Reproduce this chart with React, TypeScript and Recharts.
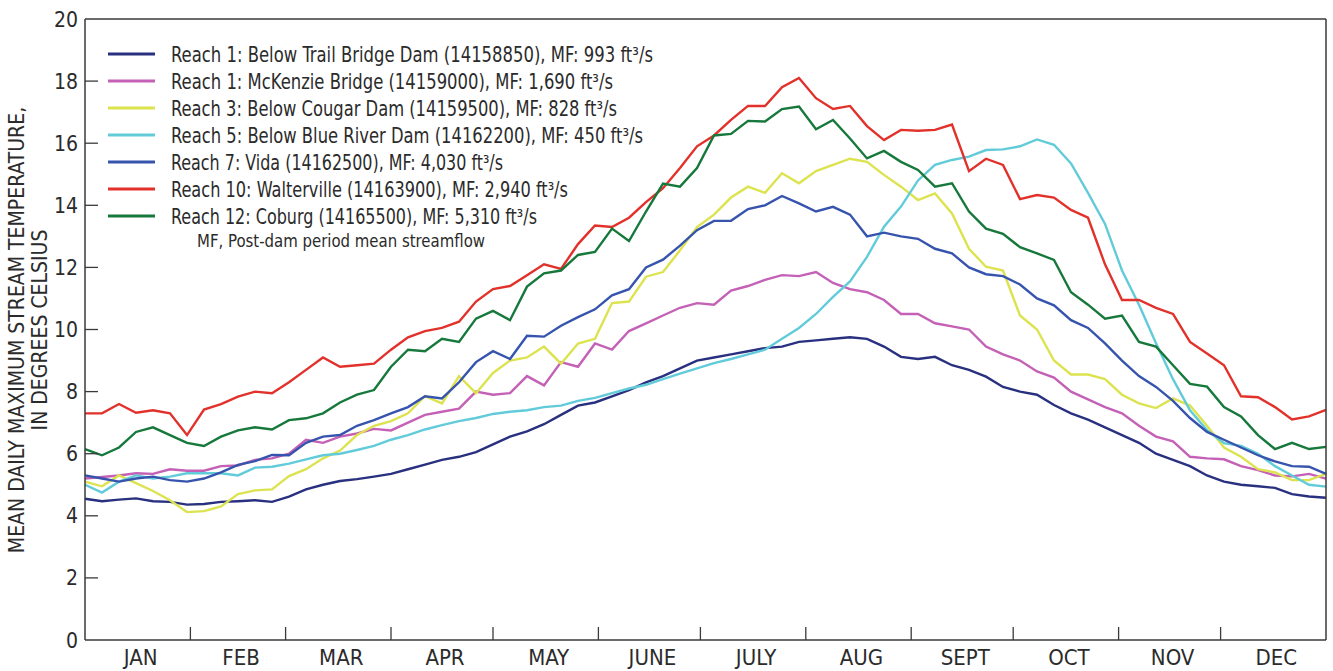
import React from "react";
import { LineChart, Line, XAxis, YAxis } from "recharts";

// day of year for each sample
const days = [
  0, 5, 10, 15, 20, 25, 30, 35, 40, 45, 50, 55, 60, 65, 70, 75, 80, 85, 90, 95,
  100, 105, 110, 115, 120, 125, 130, 135, 140, 145, 150, 155, 160, 165, 170, 175,
  180, 185, 190, 195, 200, 205, 210, 215, 220, 225, 230, 235, 240, 245, 250, 255,
  260, 265, 270, 275, 280, 285, 290, 295, 300, 305, 310, 315, 320, 325, 330, 335,
  340, 345, 350, 355, 360, 365,
];

const trailBridge = [
  4.55, 4.47, 4.52, 4.56, 4.47, 4.45, 4.36, 4.38, 4.45, 4.47, 4.5, 4.45, 4.62, 4.85,
  5.0, 5.12, 5.18, 5.26, 5.35, 5.5, 5.65, 5.8, 5.9, 6.05, 6.3, 6.55, 6.72, 6.95, 7.25,
  7.55, 7.65, 7.85, 8.05, 8.3, 8.5, 8.75, 9.0, 9.1, 9.2, 9.3, 9.4, 9.45, 9.6, 9.65,
  9.7, 9.75, 9.7, 9.45, 9.12, 9.05, 9.12, 8.85, 8.7, 8.48, 8.15, 8.0, 7.9, 7.57, 7.3,
  7.1, 6.85, 6.6, 6.35, 6.0, 5.8, 5.6, 5.3, 5.1, 5.0, 4.95, 4.9, 4.7, 4.62, 4.58,
];

const mckenzie = [
  5.2, 5.25, 5.3, 5.37, 5.35, 5.5, 5.45, 5.45, 5.6, 5.62, 5.8, 5.85, 6.0, 6.45, 6.35,
  6.55, 6.65, 6.8, 6.75, 7.0, 7.25, 7.35, 7.45, 8.0, 7.9, 7.95, 8.5, 8.2, 8.95, 8.8,
  9.55, 9.35, 9.95, 10.2, 10.45, 10.7, 10.85, 10.8, 11.25, 11.4, 11.6, 11.75, 11.72,
  11.85, 11.5, 11.3, 11.2, 10.95, 10.5, 10.5, 10.2, 10.1, 10.0, 9.45, 9.2, 9.0, 8.65,
  8.45, 8.0, 7.75, 7.5, 7.3, 6.9, 6.55, 6.4, 5.9, 5.85, 5.82, 5.6, 5.47, 5.3, 5.27,
  5.35, 5.2,
];

const cougar = [
  5.1, 4.95, 5.3, 5.05, 4.8, 4.5, 4.12, 4.15, 4.3, 4.7, 4.82, 4.85, 5.28, 5.5, 5.85,
  6.1, 6.6, 6.9, 7.05, 7.3, 7.85, 7.62, 8.5, 7.95, 8.6, 9.0, 9.1, 9.45, 8.9, 9.55, 9.7,
  10.85, 10.9, 11.7, 11.85, 12.55, 13.3, 13.7, 14.25, 14.6, 14.4, 15.03, 14.71, 15.1,
  15.3, 15.5, 15.4, 14.98, 14.6, 14.17, 14.38, 13.74, 12.6, 12.02, 11.9, 10.45, 10.0,
  9.0, 8.55, 8.55, 8.4, 7.9, 7.62, 7.47, 7.78, 7.55, 6.9, 6.2, 5.9, 5.5, 5.4, 5.15,
  5.15, 5.35,
];

const blueRiver = [
  5.0, 4.75, 5.1, 5.3, 5.2, 5.26, 5.37, 5.37, 5.37, 5.3, 5.55, 5.58, 5.68, 5.82, 5.95,
  6.0, 6.12, 6.25, 6.45, 6.6, 6.78, 6.92, 7.05, 7.15, 7.28, 7.35, 7.4, 7.5, 7.55, 7.7,
  7.8, 7.95, 8.1, 8.22, 8.4, 8.58, 8.75, 8.92, 9.05, 9.2, 9.35, 9.7, 10.05, 10.5, 11.05,
  11.55, 12.34, 13.31, 13.96, 14.8, 15.3, 15.46, 15.57, 15.78, 15.8, 15.9, 16.12, 15.95,
  15.35, 14.4, 13.4, 11.9, 10.8, 9.56, 8.4, 7.4, 6.76, 6.34, 6.25, 6.0, 5.6, 5.3, 5.0,
  4.94,
];

const vida = [
  5.3, 5.2, 5.1, 5.2, 5.26, 5.15, 5.1, 5.2, 5.4, 5.64, 5.76, 5.96, 5.95, 6.35, 6.55,
  6.6, 6.9, 7.08, 7.3, 7.5, 7.85, 7.78, 8.3, 8.95, 9.3, 9.05, 9.8, 9.77, 10.12, 10.4,
  10.65, 11.1, 11.3, 12.0, 12.25, 12.7, 13.2, 13.5, 13.5, 13.88, 14.0, 14.3, 14.06, 13.8,
  13.95, 13.7, 13.0, 13.12, 13.0, 12.92, 12.6, 12.45, 12.0, 11.78, 11.72, 11.45, 11.0,
  10.78, 10.3, 10.05, 9.55, 9.0, 8.5, 8.15, 7.7, 7.15, 6.7, 6.45, 6.2, 5.95, 5.75, 5.6,
  5.58, 5.35,
];

const walterville = [
  7.3, 7.3, 7.6, 7.32, 7.4, 7.3, 6.6, 7.42, 7.6, 7.84, 8.0, 7.95, 8.3, 8.7, 9.1, 8.8,
  8.85, 8.9, 9.35, 9.75, 9.95, 10.05, 10.25, 10.9, 11.3, 11.4, 11.75, 12.1, 11.95, 12.75,
  13.35, 13.3, 13.6, 14.1, 14.55, 15.2, 15.9, 16.25, 16.75, 17.2, 17.2, 17.8, 18.1,
  17.45, 17.1, 17.2, 16.55, 16.1, 16.43, 16.4, 16.43, 16.6, 15.1, 15.5, 15.3, 14.2,
  14.33, 14.25, 13.85, 13.6, 12.1, 10.95, 10.95, 10.7, 10.5, 9.6, 9.23, 8.85, 7.85,
  7.82, 7.5, 7.1, 7.2, 7.41,
];

const coburg = [
  6.15, 5.95, 6.2, 6.7, 6.85, 6.6, 6.35, 6.25, 6.55, 6.75, 6.85, 6.78, 7.08, 7.14, 7.3,
  7.65, 7.9, 8.05, 8.8, 9.35, 9.3, 9.7, 9.6, 10.35, 10.6, 10.3, 11.38, 11.81, 11.9, 12.4,
  12.5, 13.25, 12.85, 13.8, 14.7, 14.6, 15.2, 16.25, 16.3, 16.72, 16.7, 17.1, 17.18,
  16.45, 16.75, 16.15, 15.51, 15.75, 15.4, 15.14, 14.6, 14.71, 13.8, 13.25, 13.08, 12.65,
  12.45, 12.24, 11.2, 10.8, 10.35, 10.45, 9.6, 9.45, 8.85, 8.25, 8.16, 7.5, 7.2, 6.6,
  6.15, 6.35, 6.15, 6.22,
];

const monthNames = ["JAN", "FEB", "MAR", "APR", "MAY", "JUNE", "JULY", "AUG", "SEPT", "OCT", "NOV", "DEC"];
const monthEdges = [0, 31, 59, 90, 120, 151, 181, 212, 243, 273, 304, 334, 365];
const yTicks = [0, 2, 4, 6, 8, 10, 12, 14, 16, 18, 20];

const seriesInfo = [
  { key: "trail", color: "#28307f", name: "Reach 1: Below Trail Bridge Dam (14158850), MF: 993 ft³/s" },
  { key: "mck", color: "#c461b6", name: "Reach 1: McKenzie Bridge (14159000), MF: 1,690 ft³/s" },
  { key: "cougar", color: "#dce34f", name: "Reach 3: Below Cougar Dam (14159500), MF: 828 ft³/s" },
  { key: "blue", color: "#62cbd9", name: "Reach 5: Below Blue River Dam (14162200), MF: 450 ft³/s" },
  { key: "vida", color: "#3654ad", name: "Reach 7: Vida (14162500), MF: 4,030 ft³/s" },
  { key: "walt", color: "#e2312a", name: "Reach 10: Walterville (14163900), MF: 2,940 ft³/s" },
  { key: "coburg", color: "#16783b", name: "Reach 12: Coburg (14165500), MF: 5,310 ft³/s" },
];

const data = days.map((d, i) => ({
  day: d,
  trail: trailBridge[i],
  mck: mckenzie[i],
  cougar: cougar[i],
  blue: blueRiver[i],
  vida: vida[i],
  walt: walterville[i],
  coburg: coburg[i],
}));

const FONT = "'Liberation Sans Narrow', 'DejaVu Sans Condensed', 'Roboto Condensed', Roboto, sans-serif";
const TEXT = "#2b2b2b";
const AXIS = "#3a3a3a";

// rendered widths of the legend lines (condensed type in the original)
const legendWidths = [482, 442, 446, 472, 332, 397, 366];

const innerEdges = monthEdges.slice(1, -1);
const monthMids = monthNames.map((_, i) => (monthEdges[i] + monthEdges[i + 1]) / 2);

function BottomTick(props: any) {
  const { x, y, payload } = props;
  const v = payload.value;
  if (innerEdges.includes(v)) {
    return <line x1={x} x2={x} y1={y} y2={y - 13} stroke={AXIS} strokeWidth={1.3} />;
  }
  const idx = monthMids.indexOf(v);
  return (
    <text x={x} y={y + 25} dx={3} textAnchor="middle" fontFamily={FONT} fontSize={22} fill={TEXT}>
      {monthNames[idx]}
    </text>
  );
}

function LeftTick(props: any) {
  const { x, y, payload } = props;
  return (
    <g>
      {payload.value !== 0 && payload.value !== 20 && (
        <line x1={x} x2={x + 13} y1={y} y2={y} stroke={AXIS} strokeWidth={1.3} />
      )}
      <text x={x - 7} y={y} dy={7.5} textAnchor="end" fontFamily={FONT} fontSize={21} fill={TEXT}>
        {payload.value}
      </text>
    </g>
  );
}

export default function App() {
  return (
    <div style={{ position: "absolute", left: 0, top: 0, width: 1333, height: 671, background: "#fff" }}>
      <LineChart width={1333} height={671} data={data} margin={{ top: 19, right: 7, left: 35, bottom: 0 }}>
        <XAxis
          dataKey="day"
          type="number"
          domain={[0, 365]}
          ticks={[...innerEdges, ...monthMids]}
          interval={0}
          tickSize={0}
          tickMargin={0}
          tickLine={false}
          tick={<BottomTick />}
          height={31}
          axisLine={{ stroke: AXIS, strokeWidth: 1.5 }}
        />
        <XAxis
          xAxisId="top"
          orientation="top"
          mirror
          dataKey="day"
          type="number"
          domain={[0, 365]}
          ticks={innerEdges}
          interval={0}
          tick={false}
          tickSize={13}
          tickLine={{ stroke: AXIS, strokeWidth: 1.3 }}
          axisLine={{ stroke: AXIS, strokeWidth: 1.5 }}
        />
        <YAxis
          domain={[0, 20]}
          ticks={yTicks}
          interval={0}
          width={50}
          tickSize={0}
          tickMargin={0}
          tickLine={false}
          tick={<LeftTick />}
          axisLine={{ stroke: AXIS, strokeWidth: 1.5 }}
        />
        <YAxis
          yAxisId="right"
          orientation="right"
          mirror
          domain={[0, 20]}
          ticks={yTicks.slice(1, -1)}
          interval={0}
          tick={false}
          tickSize={13}
          tickLine={{ stroke: AXIS, strokeWidth: 1.3 }}
          axisLine={{ stroke: AXIS, strokeWidth: 1.5 }}
        />
        {seriesInfo.map((s) => (
          <Line
            key={s.key}
            dataKey={s.key}
            type="linear"
            stroke={s.color}
            strokeWidth={2.4}
            dot={false}
            isAnimationActive={false}
          />
        ))}
      </LineChart>
      <svg
        width={1333}
        height={671}
        style={{ position: "absolute", left: 0, top: 0, pointerEvents: "none" }}
      >
        <g fontFamily={FONT} fill={TEXT}>
          <text transform="translate(24,330) rotate(-90)" textAnchor="middle" fontSize={21}>
            MEAN DAILY MAXIMUM STREAM TEMPERATURE,
          </text>
          <text transform="translate(47,330) rotate(-90)" textAnchor="middle" fontSize={21}>
            IN DEGREES CELSIUS
          </text>
          {seriesInfo.map((s, i) => (
            <g key={s.key}>
              <line x1={108} x2={155} y1={54 + 27 * i} y2={54 + 27 * i} stroke={s.color} strokeWidth={3} />
              <text
                x={171}
                y={54 + 27 * i + 7.5}
                fontSize={20.5}
                textLength={legendWidths[i]}
                lengthAdjust="spacingAndGlyphs"
              >
                {s.name}
              </text>
            </g>
          ))}
          <text x={197} y={247} fontSize={17} textLength={288} lengthAdjust="spacingAndGlyphs">
            MF, Post-dam period mean streamflow
          </text>
        </g>
      </svg>
    </div>
  );
}
